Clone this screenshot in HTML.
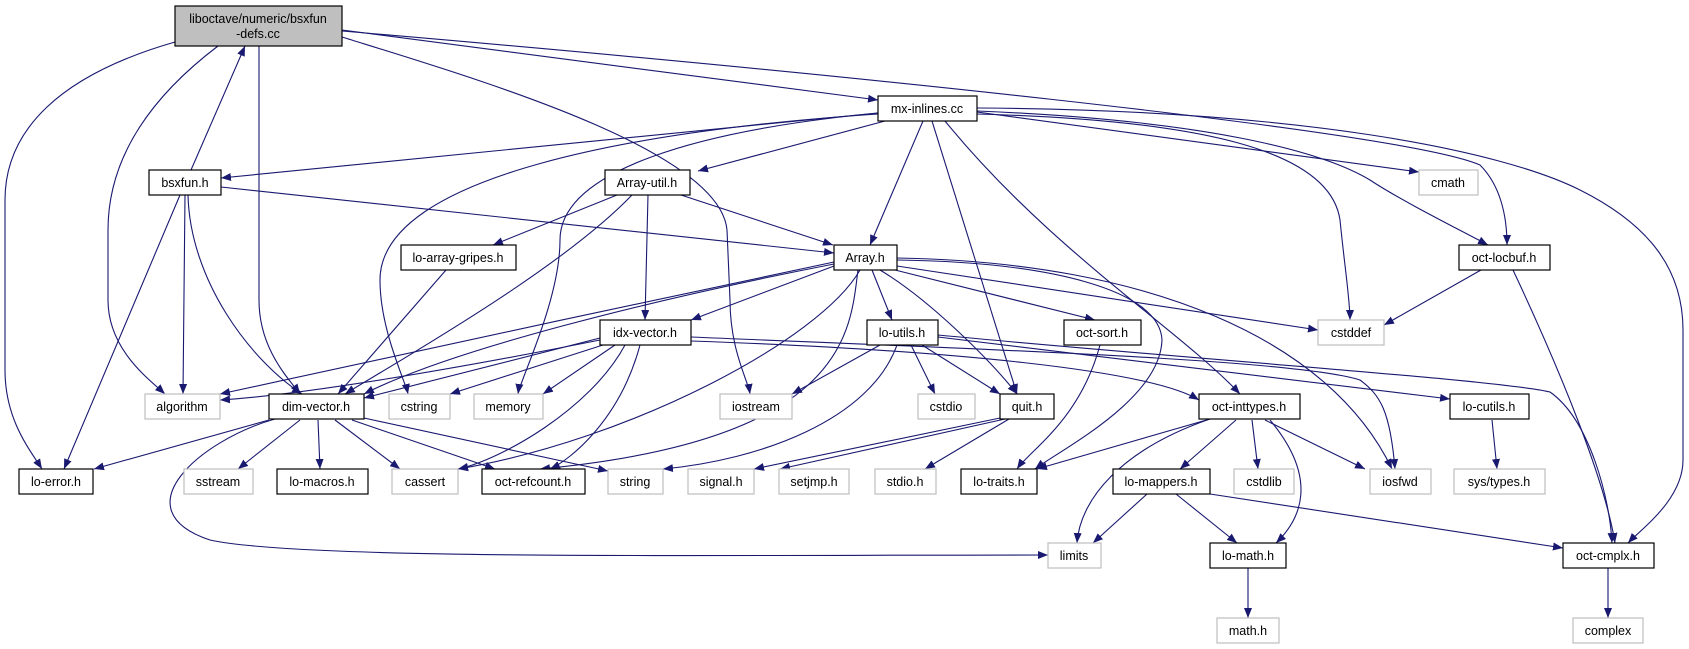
<!DOCTYPE html>
<html><head><meta charset="utf-8"><style>
body{margin:0;background:#fff}
svg{display:block}
text{font-family:"Liberation Sans",sans-serif;font-size:12.5px;fill:#000;text-anchor:middle}
.e{fill:none;stroke:#191970;stroke-width:1.1;marker-end:url(#a)}
.b{fill:#fff;stroke:#000;stroke-width:1.2}
.g{fill:#fff;stroke:#bfbfbf;stroke-width:1.2}
</style></head><body>
<svg width="1689" height="649" viewBox="0 0 1689 649" xmlns="http://www.w3.org/2000/svg">
<defs><marker id="a" markerWidth="10" markerHeight="8" refX="10" refY="4" orient="auto" markerUnits="userSpaceOnUse"><path d="M0,0 L10,4 L0,8 z" fill="#191970"/></marker></defs>
<!-- edges -->
<path class="e" d="M175,42 C60,75 5,130 5,200 L5,370 C5,420 30,450 42,469"/>
<path class="e" d="M218,46 C160,90 108,150 108,230 L108,300 C108,350 150,380 165,394"/>
<path class="e" d="M259,46 L259,300 C259,350 290,380 300,394"/>
<path class="e" d="M342,37 C480,80 720,150 727,230 L730,300 C730,350 748,380 750,394"/>
<path class="e" d="M342,30 L878,100"/>
<path class="e" d="M342,31 C800,70 1400,130 1480,165 C1500,185 1507,215 1507,245"/>
<path class="e" d="M191,170 L245,46"/>
<path class="e" d="M878,113 L221,178"/>
<path class="e" d="M885,121 L698,171"/>
<path class="e" d="M878,114 C640,130 380,175 380,280 C380,330 405,380 408,394"/>
<path class="e" d="M878,113 C700,130 560,170 560,240 C560,300 520,380 518,394"/>
<path class="e" d="M923,121 L870,245"/>
<path class="e" d="M932,121 L1017,394"/>
<path class="e" d="M945,121 C1050,250 1180,330 1240,394"/>
<path class="e" d="M977,114 C1200,120 1330,150 1340,220 C1345,270 1350,300 1350,320"/>
<path class="e" d="M977,112 L1419,172"/>
<path class="e" d="M977,111 C1200,120 1320,150 1370,180 C1400,200 1460,230 1488,245"/>
<path class="e" d="M977,108 C1300,110 1500,150 1580,190 C1650,225 1683,270 1683,330 L1683,460 C1683,500 1640,530 1628,543"/>
<path class="e" d="M221,187 L834,253"/>
<path class="e" d="M185,195 L183,394"/>
<path class="e" d="M188,195 C190,280 250,360 302,394"/>
<path class="e" d="M180,195 L64,469"/>
<path class="e" d="M617,195 L493,245"/>
<path class="e" d="M648,195 L645,320"/>
<path class="e" d="M681,195 L833,245"/>
<path class="e" d="M632,195 C560,270 400,360 345,394"/>
<path class="e" d="M446,270 L338,394"/>
<path class="e" d="M834,262 C650,300 380,360 220,394"/>
<path class="e" d="M834,264 C650,300 450,350 364,394"/>
<path class="e" d="M834,266 L691,320"/>
<path class="e" d="M872,270 L892,320"/>
<path class="e" d="M880,270 C930,300 990,360 1017,394"/>
<path class="e" d="M895,270 L1095,320"/>
<path class="e" d="M897,266 L1318,330"/>
<path class="e" d="M897,258 C1150,262 1330,340 1392,469"/>
<path class="e" d="M897,260 C1050,262 1160,290 1162,340 C1160,400 1060,450 1035,469"/>
<path class="e" d="M860,270 C820,340 630,440 458,469"/>
<path class="e" d="M858,270 C850,330 850,440 540,469"/>
<path class="e" d="M600,340 C450,370 300,395 220,400"/>
<path class="e" d="M600,338 L364,398"/>
<path class="e" d="M603,345 L450,394"/>
<path class="e" d="M615,345 L543,394"/>
<path class="e" d="M625,345 C590,410 500,460 458,469"/>
<path class="e" d="M640,345 C620,420 570,460 550,469"/>
<path class="e" d="M691,341 C950,350 1150,370 1199,400"/>
<path class="e" d="M691,337 C1000,350 1300,360 1360,380 C1380,395 1390,410 1395,469"/>
<path class="e" d="M880,345 L792,394"/>
<path class="e" d="M911,345 L935,394"/>
<path class="e" d="M922,345 L1000,394"/>
<path class="e" d="M897,345 C870,420 760,460 663,469"/>
<path class="e" d="M938,337 L1450,399"/>
<path class="e" d="M938,335 C1200,360 1500,380 1550,392 C1590,420 1610,500 1612,543"/>
<path class="e" d="M1100,345 C1080,420 1030,450 1017,469"/>
<path class="e" d="M269,420 L94,469"/>
<path class="e" d="M300,420 L238,469"/>
<path class="e" d="M318,420 L320,469"/>
<path class="e" d="M335,420 L400,469"/>
<path class="e" d="M352,420 L495,469"/>
<path class="e" d="M364,418 L608,471"/>
<path class="e" d="M275,419 C200,440 120,510 210,540 C300,560 700,555 1048,555"/>
<path class="e" d="M1000,418 L754,469"/>
<path class="e" d="M1005,419 L780,469"/>
<path class="e" d="M1009,419 L925,469"/>
<path class="e" d="M1210,419 C1120,450 1080,500 1077,543"/>
<path class="e" d="M1210,419 L1037,469"/>
<path class="e" d="M1236,420 L1180,469"/>
<path class="e" d="M1252,420 L1258,469"/>
<path class="e" d="M1265,420 L1365,469"/>
<path class="e" d="M1270,420 C1320,480 1300,520 1276,543"/>
<path class="e" d="M1492,420 L1497,469"/>
<path class="e" d="M1147,494 L1093,543"/>
<path class="e" d="M1176,494 L1237,543"/>
<path class="e" d="M1210,494 L1563,548"/>
<path class="e" d="M1481,270 L1384,325"/>
<path class="e" d="M1513,270 C1560,370 1605,480 1615,543"/>
<path class="e" d="M1248,568 L1248,618"/>
<path class="e" d="M1608,568 L1608,618"/>
<!-- nodes -->
<rect x="175" y="6" width="167" height="40" fill="#bfbfbf" stroke="#000" stroke-width="1.2"/>
<text x="258" y="23">liboctave/numeric/bsxfun</text><text x="258" y="38">-defs.cc</text>
<rect class="b" x="878" y="96" width="99" height="25"/><text x="927" y="113">mx-inlines.cc</text>
<rect class="b" x="149" y="170" width="72" height="25"/><text x="185" y="187">bsxfun.h</text>
<rect class="b" x="605" y="170" width="85" height="25"/><text x="647" y="187">Array-util.h</text>
<rect class="g" x="1419" y="170" width="59" height="25"/><text x="1448" y="187">cmath</text>
<rect class="b" x="401" y="245" width="115" height="25"/><text x="458" y="262">lo-array-gripes.h</text>
<rect class="b" x="834" y="245" width="63" height="25"/><text x="865" y="262">Array.h</text>
<rect class="b" x="1459" y="245" width="91" height="25"/><text x="1504" y="262">oct-locbuf.h</text>
<rect class="b" x="600" y="320" width="91" height="25"/><text x="645" y="337">idx-vector.h</text>
<rect class="b" x="867" y="320" width="71" height="25"/><text x="902" y="337">lo-utils.h</text>
<rect class="b" x="1064" y="320" width="77" height="25"/><text x="1102" y="337">oct-sort.h</text>
<rect class="g" x="1318" y="320" width="66" height="25"/><text x="1351" y="337">cstddef</text>
<rect class="g" x="145" y="394" width="75" height="25"/><text x="182" y="411">algorithm</text>
<rect class="b" x="269" y="394" width="95" height="25"/><text x="316" y="411">dim-vector.h</text>
<rect class="g" x="389" y="394" width="61" height="25"/><text x="419" y="411">cstring</text>
<rect class="g" x="474" y="394" width="69" height="25"/><text x="508" y="411">memory</text>
<rect class="g" x="720" y="394" width="72" height="25"/><text x="756" y="411">iostream</text>
<rect class="g" x="918" y="394" width="57" height="25"/><text x="946" y="411">cstdio</text>
<rect class="b" x="1000" y="394" width="54" height="25"/><text x="1027" y="411">quit.h</text>
<rect class="b" x="1199" y="394" width="101" height="25"/><text x="1249" y="411">oct-inttypes.h</text>
<rect class="b" x="1450" y="394" width="79" height="25"/><text x="1489" y="411">lo-cutils.h</text>
<rect class="b" x="19" y="469" width="74" height="25"/><text x="56" y="486">lo-error.h</text>
<rect class="g" x="184" y="469" width="69" height="25"/><text x="218" y="486">sstream</text>
<rect class="b" x="277" y="469" width="91" height="25"/><text x="322" y="486">lo-macros.h</text>
<rect class="g" x="392" y="469" width="66" height="25"/><text x="425" y="486">cassert</text>
<rect class="b" x="482" y="469" width="103" height="25"/><text x="533" y="486">oct-refcount.h</text>
<rect class="g" x="608" y="469" width="55" height="25"/><text x="635" y="486">string</text>
<rect class="g" x="688" y="469" width="66" height="25"/><text x="721" y="486">signal.h</text>
<rect class="g" x="779" y="469" width="70" height="25"/><text x="814" y="486">setjmp.h</text>
<rect class="g" x="875" y="469" width="61" height="25"/><text x="905" y="486">stdio.h</text>
<rect class="b" x="961" y="469" width="76" height="25"/><text x="999" y="486">lo-traits.h</text>
<rect class="b" x="1113" y="469" width="97" height="25"/><text x="1161" y="486">lo-mappers.h</text>
<rect class="g" x="1234" y="469" width="60" height="25"/><text x="1264" y="486">cstdlib</text>
<rect class="g" x="1370" y="469" width="61" height="25"/><text x="1400" y="486">iosfwd</text>
<rect class="g" x="1454" y="469" width="91" height="25"/><text x="1499" y="486">sys/types.h</text>
<rect class="g" x="1048" y="543" width="53" height="25"/><text x="1074" y="560">limits</text>
<rect class="b" x="1210" y="543" width="76" height="25"/><text x="1248" y="560">lo-math.h</text>
<rect class="b" x="1563" y="543" width="91" height="25"/><text x="1608" y="560">oct-cmplx.h</text>
<rect class="g" x="1217" y="618" width="62" height="25"/><text x="1248" y="635">math.h</text>
<rect class="g" x="1573" y="618" width="70" height="25"/><text x="1608" y="635">complex</text>
</svg>
</body></html>
